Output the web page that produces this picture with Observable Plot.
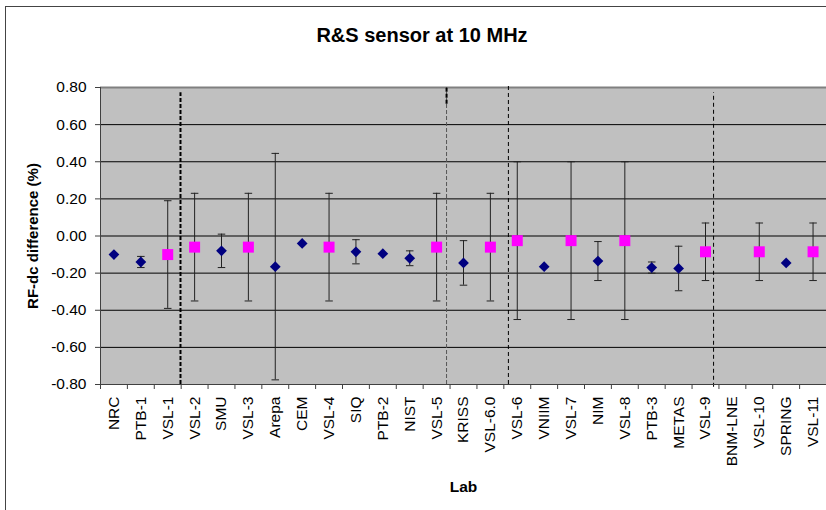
<!DOCTYPE html>
<html><head><meta charset="utf-8">
<script src="https://cdn.jsdelivr.net/npm/d3@7"></script>
<script src="https://cdn.jsdelivr.net/npm/@observablehq/plot@0.6"></script>
<style>
body{margin:0;background:#fff;overflow:hidden;font-family:"Liberation Sans",Arial,sans-serif}
#wrap{position:relative;width:826px;height:510px;overflow:hidden}
#border{position:absolute;left:5px;top:6px;width:900px;height:600px;border-left:1px solid #444;border-top:1px solid #444;pointer-events:none}
#title{position:absolute;left:0;top:24px;width:844px;text-align:center;font-weight:bold;font-size:20px;line-height:23px;color:#000}
#chart{position:absolute;left:0;top:0}
</style></head>
<body><div id="wrap"><div id="chart"></div><div id="title">R&amp;S sensor at 10 MHz</div><div id="border"></div></div>
<script>
const labs = ["NRC","PTB-1","VSL-1","VSL-2","SMU","VSL-3","Arepa","CEM","VSL-4","SIQ","PTB-2","NIST","VSL-5","KRISS","VSL-6.0","VSL-6","VNIIM","VSL-7","NIM","VSL-8","PTB-3","METAS","VSL-9","BNM-LNE","VSL-10","SPRING","VSL-11"];
const values = [-0.10,-0.14,-0.10,-0.06,-0.08,-0.06,-0.165,-0.04,-0.06,-0.085,-0.095,-0.12,-0.06,-0.145,-0.06,-0.025,-0.165,-0.025,-0.135,-0.025,-0.17,-0.175,-0.085,null,-0.085,-0.145,-0.085];
const uncertainties = [0,0.03,0.29,0.29,0.09,0.29,0.61,0,0.29,0.065,0,0.04,0.29,0.12,0.29,0.425,0,0.425,0.105,0.425,0.03,0.12,0.155,null,0.155,0,0.155];
const yTicks = [-0.8,-0.6,-0.4,-0.2,0,0.2,0.4,0.6,0.8];
const gridLines = [-0.6,-0.4,-0.2,0,0.2,0.4,0.6];
const separators = [2.975, 12.87, 15.17, 22.8];
const boundaries = d3.range(0, labs.length + 1);

const rows = labs.map((lab, i) => ({lab, x: i + 0.5, v: values[i], u: uncertainties[i], vsl: lab.startsWith("VSL")}))
  .filter(d => d.v != null);
const bars = rows.filter(d => d.u > 0);
const caps = bars.flatMap(d => [{x: d.x, y: d.v + d.u}, {x: d.x, y: d.v - d.u}]);

const diamond = {draw(ctx, size) { const h = Math.sqrt(size / 2); ctx.moveTo(0, -h); ctx.lineTo(h, 0); ctx.lineTo(0, h); ctx.lineTo(-h, 0); ctx.closePath(); }};

const chart = Plot.plot({
  width: 826, height: 510,
  marginLeft: 100, marginRight: 0, marginTop: 87, marginBottom: 126,
  style: {background: "transparent", fontFamily: "'Liberation Sans', Arial, sans-serif", color: "#000", overflow: "visible"},
  x: {type: "linear", domain: [0, labs.length]},
  y: {domain: [-0.8, 0.8]},
  marks: [
    Plot.frame({fill: "#C0C0C0", stroke: "none"}),
    Plot.ruleY(gridLines, {stroke: "#000", strokeWidth: 1}),
    Plot.ruleY([0.8], {stroke: "#808080", strokeWidth: 2}),
    Plot.ruleX([separators[0]], {y1: -0.8, y2: 0.772, stroke: "#000", strokeWidth: 2, strokeDasharray: "4,2"}),
    Plot.ruleX([separators[1]], {y1: -0.8, y2: 0.8, stroke: "#555", strokeWidth: 1, strokeDasharray: "4,2"}),
    Plot.ruleX([separators[1]], {y1: 0.71, y2: 0.8, stroke: "#000", strokeWidth: 2, strokeDasharray: "4,2"}),
    Plot.ruleX([separators[2]], {y1: -0.8, y2: 0.81, stroke: "#000", strokeWidth: 1, strokeDasharray: "4,3"}),
    Plot.ruleX([separators[3]], {y1: -0.815, y2: 0.772, stroke: "#000", strokeWidth: 1, strokeDasharray: "4,3"}),
    Plot.ruleX(bars, {x: "x", y1: d => d.v - d.u, y2: d => d.v + d.u, stroke: "#222", strokeWidth: 1}),
    Plot.link(caps, {x1: d => d.x - 0.14, x2: d => d.x + 0.14, y1: "y", y2: "y", stroke: "#222", strokeWidth: 1}),
    Plot.dot(rows.filter(d => !d.vsl), {x: "x", y: "v", symbol: diamond, r: 4.3, fill: "#000080", stroke: "none"}),
    Plot.dot(rows.filter(d => d.vsl), {x: "x", y: "v", symbol: "square", r: 6.2, fill: "#FF00FF", stroke: "none"}),
    Plot.ruleY([-0.8], {stroke: "#404040", strokeWidth: 1}),
    Plot.ruleX([0], {stroke: "#404040", strokeWidth: 1}),
    Plot.axisY({ticks: yTicks, tickFormat: d => d.toFixed(2), tickSize: 5, tickPadding: 9, fontSize: 15.5, label: null, stroke: "#404040"}),
    Plot.axisX({ticks: boundaries, tickFormat: () => "", tickSize: 5, label: null, stroke: "#404040"}),
    Plot.text(labs, {x: (d, i) => i + 0.5, y: -0.8, text: d => d, rotate: -90, textAnchor: "end", lineAnchor: "middle", dy: 12, fontSize: 15.5, fill: "#000"}),
    Plot.text(["RF-dc difference (%)"], {frameAnchor: "left", dx: -67, rotate: -90, textAnchor: "middle", lineAnchor: "middle", fontSize: 15, fontWeight: "bold", fill: "#000"}),
    Plot.text(["Lab"], {frameAnchor: "bottom", dy: 103, textAnchor: "middle", lineAnchor: "middle", fontSize: 15.5, fontWeight: "bold", fill: "#000"})
  ]
});
document.getElementById("chart").appendChild(chart);
</script>
</body></html>
